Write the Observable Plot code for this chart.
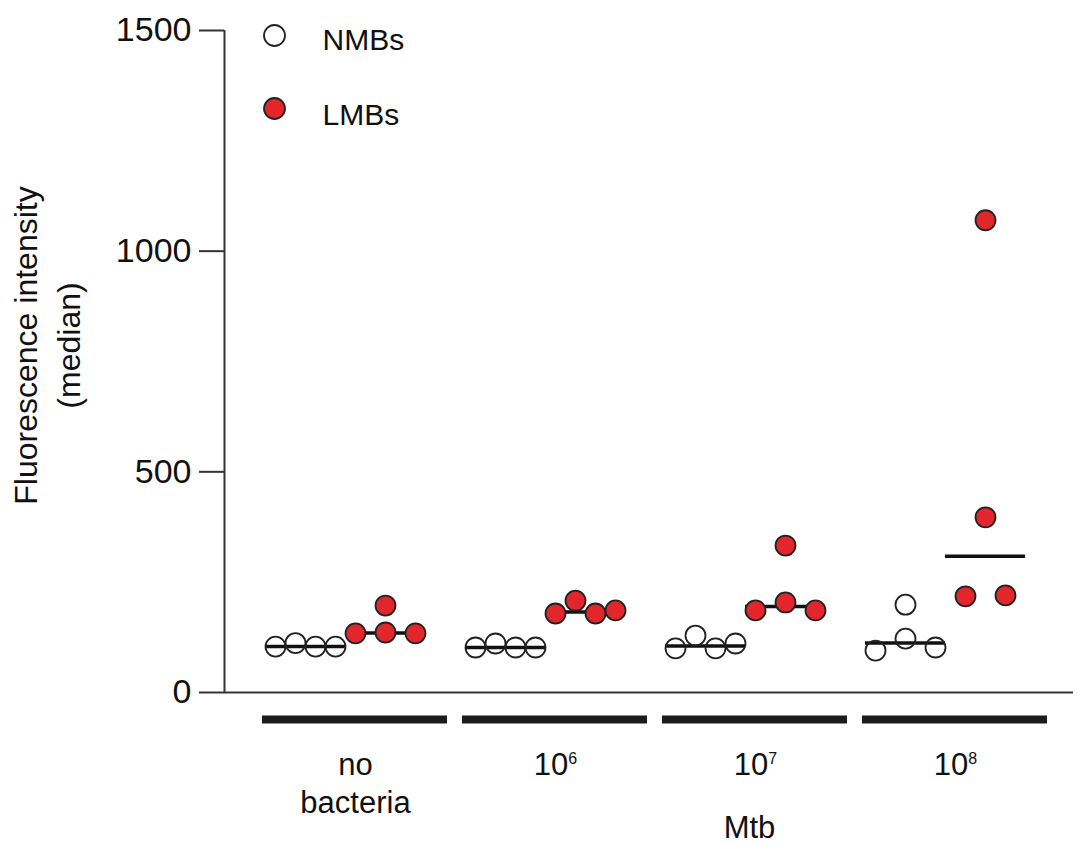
<!DOCTYPE html>
<html>
<head>
<meta charset="utf-8">
<script src="https://cdn.jsdelivr.net/npm/d3@7"></script>
<script src="https://cdn.jsdelivr.net/npm/@observablehq/plot@0.6"></script>
<style>
  html, body { margin: 0; padding: 0; background: white; }
</style>
</head>
<body>
<div id="chart"></div>
<script>
// ---- data ----
const groups = ["no\nbacteria", "10⁶", "10⁷", "10⁸"];
const seriesNames = ["NMBs", "LMBs"];
const seriesFill = ["none", "#e3262b"];
const nmbValues = [[104, 112, 104, 104], [102, 111, 102, 102], [100, 129, 100, 111], [95, 122, 199, 102]];
const nmbSlots  = [[-1.5, -0.5, 0.5, 1.5], [-1.5, -0.5, 0.5, 1.5], [-1.5, -0.5, 0.5, 1.5], [-1.5, 0, 0, 1.5]];
const lmbValues = [[134, 136, 197, 134], [179, 208, 179, 186], [186, 204, 333, 186], [218, 397, 1070, 220]];
const lmbSlots  = [[-1.5, 0, 0, 1.5], [-1.5, -0.5, 0.5, 1.5], [-1.5, 0, 0, 1.5], [-1, 0, 0, 1]];
const yTicks = [0, 500, 1000, 1500];
const xLabel = "Mtb";
const yLabel = "Fluorescence intensity\n(median)";

// ---- derived tables ----
const seriesValues = [nmbValues, lmbValues];
const seriesSlots = [nmbSlots, lmbSlots];
const sideOffset = [-0.2, 0.2];
const points = [];
const medians = [];
groups.forEach((g, gi) => {
  seriesNames.forEach((s, si) => {
    const center = gi + sideOffset[si];
    seriesValues[si][gi].forEach((v, k) => {
      points.push({group: g, series: s, si, value: v, x: center + seriesSlots[si][gi][k] * 0.1});
    });
    medians.push({group: g, series: s, median: d3.median(seriesValues[si][gi]), x1: center - 0.2, x2: center + 0.2});
  });
});
const groupRows = groups.map((g, i) => ({label: g, i}));

const font = "'Liberation Sans', Arial, Helvetica, sans-serif";

const legendMarks = seriesNames.flatMap((name, i) => [
  Plot.dot([name], {frameAnchor: "top-left", dx: 50, dy: 5 + 73 * i, r: 10.5,
    fill: seriesFill[i], stroke: "#222", strokeWidth: 1.8}),
  Plot.text([name], {frameAnchor: "top-left", dx: 98, dy: 10 + 75 * i, text: d => d,
    textAnchor: "start", lineAnchor: "middle", fontSize: 30, fill: "#111"})
]);

const chart = Plot.plot({
  width: 1077,
  height: 846,
  marginLeft: 224,
  marginRight: 4,
  marginTop: 30,
  marginBottom: 154,
  style: {fontFamily: font, background: "white", color: "#111"},
  x: {domain: [-0.605, 3.64], axis: null},
  y: {domain: [0, 1500]},
  marks: [
    Plot.axisY({ticks: yTicks, tickSize: 25, tickPadding: 8, fontSize: 34,
      tickFormat: d => String(d), label: null, strokeWidth: 2, stroke: "#333"}),
    Plot.ruleX([-0.605], {y1: 0, y2: 1500, stroke: "#333", strokeWidth: 2}),
    Plot.ruleY([0], {stroke: "#333", strokeWidth: 2}),
    Plot.ruleY(medians, {x1: "x1", x2: "x2", y: "median", stroke: "#111", strokeWidth: 3.5}),
    Plot.dot(points, {x: "x", y: "value", r: 10, fill: d => seriesFill[d.si], stroke: "#222", strokeWidth: 1.8}),
    Plot.ruleY(groupRows, {x1: d => d.i - 0.415, x2: d => d.i + 0.51, y: () => 0, dy: 27,
      stroke: "#1c1c1c", strokeWidth: 8}),
    Plot.text(groupRows, {x: d => d.i + 0.05, text: "label", frameAnchor: "bottom", lineAnchor: "top",
      dy: 56, fontSize: 31, lineHeight: 1.22, fill: "#111"}),
    Plot.text([xLabel], {x: () => groups.indexOf("10⁷") + 0.02, text: d => d, frameAnchor: "bottom",
      lineAnchor: "top", dy: 123, fontSize: 31, fill: "#111"}),
    Plot.text([yLabel], {frameAnchor: "left", text: d => d, rotate: -90, dx: -180, dy: -16,
      textAnchor: "middle", fontSize: 32, lineHeight: 1.35, fill: "#111"}),
    ...legendMarks
  ]
});
document.getElementById("chart").appendChild(chart);

// render superscript exponents as raised tspans (text stays real text)
const supMap = {"\u2076": "6", "\u2077": "7", "\u2078": "8"};
d3.select(chart).selectAll("text, tspan").each(function() {
  if (this.children.length !== 0) return;
  const t = this.textContent.trim();
  const last = t.slice(-1);
  if (t.length === 3 && t.startsWith("10") && supMap[last]) {
    const el = d3.select(this);
    el.text("10");
    el.append("tspan").attr("dy", "-11px").attr("font-size", "16px").text(supMap[last]);
  }
});
</script>
</body>
</html>
